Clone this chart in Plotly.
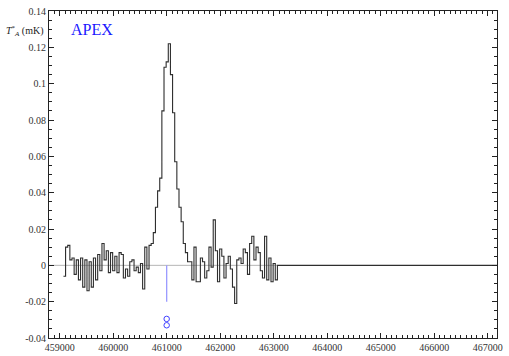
import plotly.graph_objects as go

# Spectrum: channel start frequency, width, and antenna temperature per channel
chan_start = 459070
chan_width = 40
spec_end = 463070
x_range = [458800, 467175]
t_mk = [
    -0.006, 0.010, 0.011, 0.003, 0.004, -0.005, 0.003, -0.008, 0.004, -0.012,
    0.003, -0.014, 0.002, -0.012, 0.004, -0.008, 0.006, -0.003, 0.012, 0.003,
    0.008, -0.004, 0.007, -0.003, 0.005, -0.004, 0.007, 0.006, -0.007, -0.002,
    -0.006, 0.002, 0.003, -0.003, -0.001, -0.004, 0.001, -0.013, 0.010, -0.002,
    0.011, 0.012, 0.018, 0.032, 0.041, 0.048, 0.085, 0.109, 0.112, 0.122,
    0.105, 0.084, 0.057, 0.042, 0.032, 0.024, 0.012, 0.007, 0.002, 0.002,
    -0.008, 0.010, -0.009, -0.009, 0.004, 0.002, -0.007, -0.003, 0.010, -0.001,
    0.025, 0.008, -0.009, 0.009, 0.005, -0.007, 0.001, 0.005, -0.002, -0.012,
    -0.021, 0.003, 0.004, 0.001, 0.009, 0.007, -0.005, 0.012, 0.016, 0.003,
    0.010, 0.007, -0.003, -0.007, 0.016, -0.008, 0.004, -0.009, 0.001, -0.008,
]

# Line identification marker
line_freq = 461000
line_mark_top = 0.0
line_mark_bottom = -0.02
line_circles_y = [-0.0295, -0.0330]

y_ticks = [-0.04, -0.02, 0, 0.02, 0.04, 0.06, 0.08, 0.1, 0.12, 0.14]
y_ticktext = ["-0.04", "-0.02", "0", "0.02", "0.04", "0.06", "0.08", "0.1", "0.12", "0.14"]
x_ticks = [459000, 460000, 461000, 462000, 463000, 464000, 465000, 466000, 467000]
x_ticktext = ["459000", "460000", "461000", "462000", "463000", "464000", "465000", "466000", "467000"]

freqs = [chan_start + chan_width * i for i in range(len(t_mk))] + [spec_end, x_range[1]]
vals = t_mk + [0, 0]

fig = go.Figure()
# zero reference line
fig.add_trace(go.Scatter(x=[x_range[0], spec_end], y=[0, 0], mode="lines",
                         line=dict(color="#b5b5b5", width=1), hoverinfo="skip"))
# identification line
fig.add_trace(go.Scatter(x=[line_freq, line_freq], y=[line_mark_top, line_mark_bottom],
                         mode="lines", line=dict(color="#9a9aff", width=1.3)))
fig.add_trace(go.Scatter(x=[line_freq] * len(line_circles_y), y=line_circles_y, mode="markers",
                         marker=dict(symbol="circle-open", size=5.5, color="#4040ff",
                                     line=dict(width=1, color="#4040ff"))))
# spectrum
fig.add_trace(go.Scatter(x=freqs, y=vals, mode="lines", line_shape="hv",
                         line=dict(color="#2e2e2e", width=1.1)))

axis_common = dict(showline=True, linecolor="#222", linewidth=1, mirror="ticks",
                   ticks="inside", tickcolor="#222", showgrid=False, zeroline=False,
                   automargin=False,
                   tickfont=dict(family="Liberation Serif", size=10, color="#333"))

fig.update_xaxes(range=x_range, tickvals=x_ticks, ticktext=x_ticktext, ticklen=5,
                 minor=dict(ticks="inside", ticklen=3, dtick=100, tickcolor="#222", tick0=459000),
                 **axis_common)
fig.update_yaxes(range=[-0.04, 0.14], tickvals=y_ticks, ticktext=y_ticktext, ticklen=5,
                 minor=dict(ticks="inside", ticklen=3, dtick=0.005, tickcolor="#222", tick0=0),
                 **axis_common)

fig.add_annotation(xref="paper", yref="paper", x=0.045, y=0.943, xanchor="left", yanchor="middle",
                   text="APEX", showarrow=False,
                   font=dict(family="Liberation Serif", size=16, color="#1a1aff"))
fig.add_annotation(xref="paper", yref="paper", x=-0.006, y=0.94, xanchor="right", yanchor="middle",
                   text="<i>T</i><sup>*</sup><sub><i>A</i></sub> (mK)", showarrow=False,
                   font=dict(family="Liberation Serif", size=10, color="#222"))

fig.update_layout(width=509, height=356, margin=dict(l=49, r=12, t=11, b=18, autoexpand=False),
                  plot_bgcolor="white", paper_bgcolor="white", showlegend=False)

fig.write_html("out.html", config={"displayModeBar": False},
               post_script="document.body.style.margin='0';document.body.style.overflow='hidden';")
